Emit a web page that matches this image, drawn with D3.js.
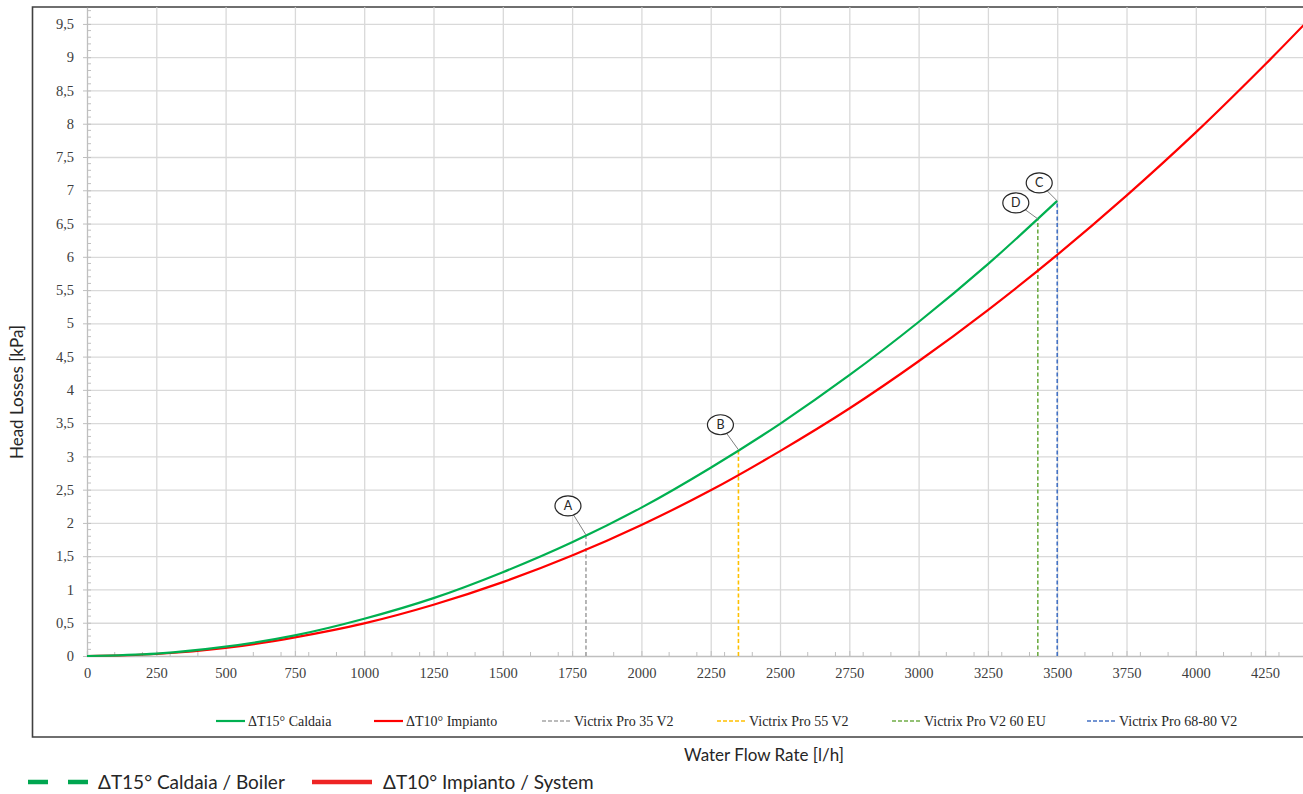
<!DOCTYPE html>
<html>
<head>
<meta charset="utf-8">
<script src="https://cdn.jsdelivr.net/npm/d3@7"></script>
<style>
  body { margin: 0; background: #fff; }
  svg { display: block; }
  .tick text { font-family: "Liberation Serif", serif; font-size: 14.5px; fill: #404040; }
  .grid line { stroke: #d9d9d9; stroke-width: 1.3; }
  .grid path { display: none; }
</style>
</head>
<body>
<svg id="chart"></svg>
<script>
// flow rates [l/h] and head losses [kPa]
const flowBoiler = [0, 250, 500, 750, 1000, 1250, 1500, 1750, 2000, 2250, 2500, 2750, 3000, 3250, 3500]
const lossBoiler = [0, 0.035, 0.14, 0.31, 0.56, 0.87, 1.26, 1.71, 2.23, 2.83, 3.49, 4.22, 5.02, 5.89, 6.84]
const flowSystem = [0, 250, 500, 750, 1000, 1250, 1500, 1750, 2000, 2250, 2500, 2750, 3000, 3250, 3500, 3750, 4000, 4250, 4400]
const lossSystem = [0, 0.03, 0.12, 0.28, 0.49, 0.77, 1.11, 1.51, 1.97, 2.49, 3.08, 3.72, 4.43, 5.20, 6.03, 6.92, 7.87, 8.89, 9.53]

// boiler models: marker letter, nominal flow, head loss on the boiler curve
const models = ['Victrix Pro 35 V2', 'Victrix Pro 55 V2', 'Victrix Pro V2 60 EU', 'Victrix Pro 68-80 V2']
const modelLetters = ['A', 'B', 'D', 'C']
const modelFlow = [1800, 2350, 3430, 3500]
const modelLoss = [1.82, 3.10, 6.57, 6.84]
const modelColors = ['#a5a5a5', '#ffc000', '#70ad47', '#4472c4']

const xTicks = d3.range(0, 4251, 250)
const yTicks = d3.range(0, 9.51, 0.5)

const WIDTH = 1303
const HEIGHT = 794
const X0 = 87, X1 = 1306.7
const Y0 = 656, Y1 = 7.3

const svg = d3.select('#chart').attr('width', WIDTH).attr('height', HEIGHT)

const x = d3.scaleLinear().domain([0, 4400]).range([X0, X1])
const y = d3.scaleLinear().domain([0, 9.75]).range([Y0, Y1])
const fmt = d => String(d).replace('.', ',')

// chart frame
svg.append('path')
  .attr('d', `M${WIDTH + 2},7 H32.5 V737 H${WIDTH + 2}`)
  .attr('fill', 'none')
  .attr('stroke', '#404040')
  .attr('stroke-width', 1.6)

// grid
svg.append('g').attr('class', 'grid')
  .attr('transform', `translate(0, ${Y0})`)
  .call(d3.axisBottom(x).tickValues(xTicks.slice(1)).tickSize(-(Y0 - Y1)).tickFormat(''))
svg.append('g').attr('class', 'grid')
  .attr('transform', `translate(${X0}, 0)`)
  .call(d3.axisLeft(y).tickValues(yTicks.slice(1)).tickSize(-(X1 - X0)).tickFormat(''))

// minor ticks
const minor = svg.append('g').attr('stroke', '#bfbfbf').attr('stroke-width', 1)
minor.selectAll('.mx').data(d3.range(0, 4400, 50).filter(v => v % 100 === 0 && v % 250 !== 0))
  .enter().append('line')
  .attr('x1', d => x(d)).attr('x2', d => x(d)).attr('y1', Y0).attr('y2', Y0 - 4)
minor.selectAll('.my').data(d3.range(1, 98).map(v => v / 10).filter(v => Math.round(v * 10) % 5 !== 0))
  .enter().append('line')
  .attr('x1', X0).attr('x2', X0 + 4).attr('y1', d => y(d)).attr('y2', d => y(d))

// axes
const xAxis = svg.append('g')
  .attr('transform', `translate(0, ${Y0})`)
  .call(d3.axisBottom(x).tickValues(xTicks).tickSize(-5).tickPadding(12).tickFormat(d => d))
xAxis.select('.domain').attr('stroke', '#bfbfbf').attr('stroke-width', 1.3)
xAxis.selectAll('.tick line').attr('stroke', '#bfbfbf')

const yAxis = svg.append('g')
  .attr('transform', `translate(${X0}, 0)`)
  .call(d3.axisLeft(y).tickValues(yTicks).tickSizeInner(5).tickSizeOuter(0).tickPadding(8).tickFormat(fmt))
yAxis.select('.domain').attr('stroke', '#bfbfbf').attr('stroke-width', 1.3)
yAxis.selectAll('.tick line').attr('stroke', '#bfbfbf').attr('x2', 4).attr('x1', -4)

// model drop lines
models.forEach((m, i) => {
  svg.append('line')
    .attr('x1', x(modelFlow[i])).attr('x2', x(modelFlow[i]))
    .attr('y1', y(0)).attr('y2', y(modelLoss[i]))
    .attr('stroke', modelColors[i])
    .attr('stroke-width', 1.6)
    .attr('stroke-dasharray', '4,2.5')
})

// curves
const line = d3.line().x(d => x(d[0])).y(d => y(d[1])).curve(d3.curveCatmullRom)
svg.append('path')
  .datum(flowSystem.map((f, i) => [f, lossSystem[i]]))
  .attr('d', line)
  .attr('fill', 'none').attr('stroke', '#ff0000').attr('stroke-width', 2.2)
svg.append('path')
  .datum(flowBoiler.map((f, i) => [f, lossBoiler[i]]))
  .attr('d', line)
  .attr('fill', 'none').attr('stroke', '#00b050').attr('stroke-width', 2.2)

// callouts: bubble offset from the point it labels
const calloutOffset = [[-18, -29], [-18, -25], [-22, -16], [-18, -18]]
const RX = 13, RY = 10
models.forEach((m, i) => {
  const px = x(modelFlow[i]), py = y(modelLoss[i])
  const dx = calloutOffset[i][0], dy = calloutOffset[i][1]
  const cx = px + dx, cy = py + dy
  // leader stops on the ellipse edge
  const t = 1 / Math.sqrt((dx * dx) / (RX * RX) + (dy * dy) / (RY * RY))
  svg.append('line')
    .attr('x1', px).attr('y1', py)
    .attr('x2', cx - dx * t).attr('y2', cy - dy * t)
    .attr('stroke', '#808080').attr('stroke-width', 1)
  svg.append('ellipse')
    .attr('cx', cx).attr('cy', cy).attr('rx', RX).attr('ry', RY)
    .attr('fill', '#fff').attr('stroke', '#262626').attr('stroke-width', 1.2)
  svg.append('text')
    .attr('x', cx).attr('y', cy + 4.5)
    .attr('text-anchor', 'middle')
    .style('font-family', 'Lato, sans-serif').style('font-size', '12.5px').style('fill', '#262626')
    .text(modelLetters[i])
})

// inner legend
const legendItems = [
  { label: 'ΔT15° Caldaia', color: '#00b050', dash: null, x: 216 },
  { label: 'ΔT10° Impianto', color: '#ff0000', dash: null, x: 374 },
].concat(models.map((m, i) => ({ label: m, color: modelColors[i], dash: '4,2', x: [542, 717, 892, 1087][i] })))

const legend = svg.append('g')
legendItems.forEach(d => {
  legend.append('line')
    .attr('x1', d.x).attr('x2', d.x + 29).attr('y1', 721).attr('y2', 721)
    .attr('stroke', d.color).attr('stroke-width', d.dash ? 1.4 : 2.2)
    .attr('stroke-dasharray', d.dash)
  legend.append('text')
    .attr('x', d.x + 32).attr('y', 725.5)
    .style('font-family', '"Liberation Serif", serif').style('font-size', '14px').style('fill', '#262626')
    .text(d.label)
})

// axis titles
svg.append('text')
  .attr('transform', 'translate(23, 392) rotate(-90)')
  .attr('text-anchor', 'middle')
  .style('font-family', 'Lato, sans-serif').style('font-size', '17px').style('fill', '#262626')
  .text('Head Losses [kPa]')
svg.append('text')
  .attr('x', 764).attr('y', 761)
  .attr('text-anchor', 'middle')
  .style('font-family', 'Lato, sans-serif').style('font-size', '17px').style('fill', '#262626')
  .text('Water Flow Rate [l/h]')

// outer legend
const outer = svg.append('g')
outer.append('line')
  .attr('x1', 28).attr('x2', 88).attr('y1', 782).attr('y2', 782)
  .attr('stroke', '#00a650').attr('stroke-width', 4.5).attr('stroke-dasharray', '20,20')
outer.append('text')
  .attr('x', 98).attr('y', 789)
  .style('font-family', 'Lato, sans-serif').style('font-size', '19px').style('fill', '#262626')
  .text('ΔT15° Caldaia / Boiler')
outer.append('line')
  .attr('x1', 312).attr('x2', 372).attr('y1', 782).attr('y2', 782)
  .attr('stroke', '#ee2424').attr('stroke-width', 4.5)
outer.append('text')
  .attr('x', 383).attr('y', 789)
  .style('font-family', 'Lato, sans-serif').style('font-size', '19px').style('fill', '#262626')
  .text('ΔT10° Impianto / System')
</script>
</body>
</html>
